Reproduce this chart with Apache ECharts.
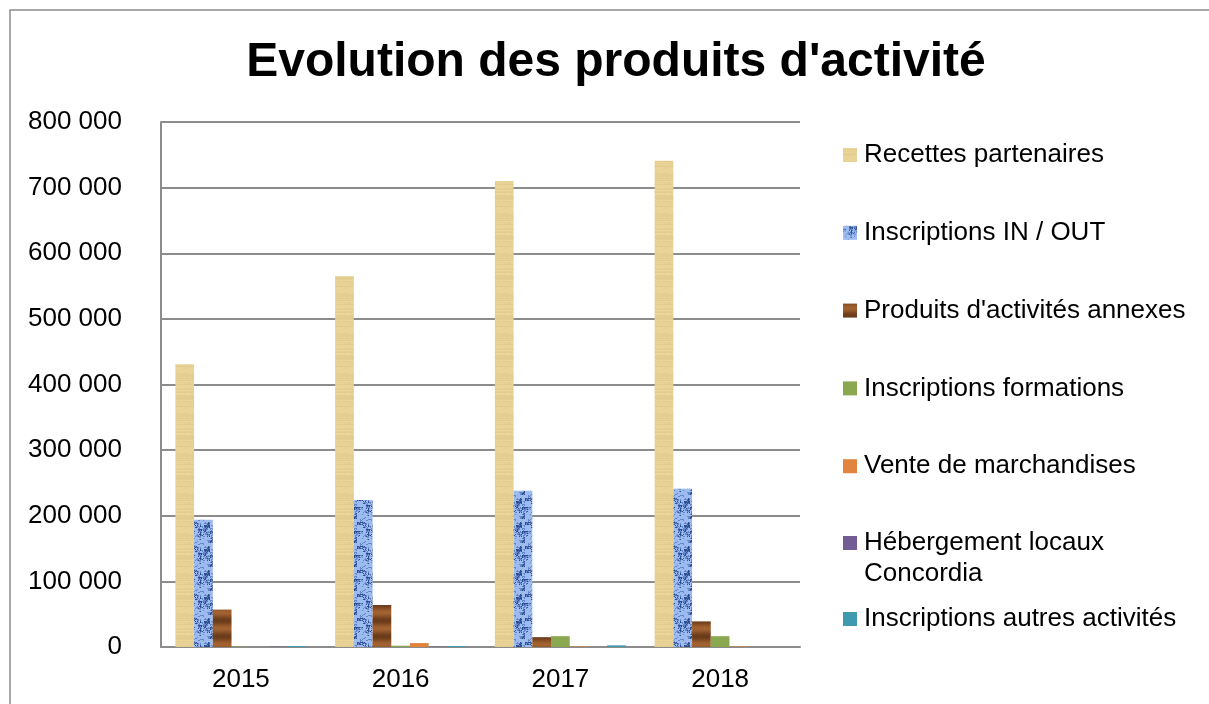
<!DOCTYPE html>
<html>
<head>
<meta charset="utf-8">
<script src="https://cdn.jsdelivr.net/npm/echarts@6/dist/echarts.min.js"></script>
<style>
  html, body { margin: 0; padding: 0; background: #fff; }
  #main { width: 1209px; height: 704px; }
</style>
</head>
<body>
<div id="main"></div>
<script>
// données
var years = ['2015', '2016', '2017', '2018'];
var recettes = [431000, 565000, 710000, 741000];
var inscriptionsInOut = [194000, 224000, 238000, 241000];
var produitsAnnexes = [57000, 64000, 15000, 39000];
var inscriptionsFormations = [500, 2000, 16500, 16500];
var venteMarchandises = [0, 6000, 800, 800];
var hebergement = [500, 500, 0, 0];
var inscriptionsAutres = [1500, 1500, 2500, 0];
var yTicks = [0, 100000, 200000, 300000, 400000, 500000, 600000, 700000, 800000];

// petites textures façon Excel (papyrus, bleu marbré, bois)
function hash(x, y) {
  var h = Math.sin(x * 127.1 + y * 311.7) * 43758.5453;
  return h - Math.floor(h);
}
function makePattern(w, h, fn) {
  var c = document.createElement('canvas');
  c.width = w; c.height = h;
  var ctx = c.getContext('2d');
  for (var y = 0; y < h; y++) {
    for (var x = 0; x < w; x++) {
      ctx.fillStyle = fn(x, y);
      ctx.fillRect(x, y, 1, 1);
    }
  }
  return { image: c, repeat: 'repeat' };
}
var papyrus = makePattern(20, 40, function (x, y) {
  var n = hash(x, y) * 0.4 + hash(0, y) * 0.6;
  var r = Math.round(238 - n * 16), g = Math.round(217 - n * 18), b = Math.round(158 - n * 22);
  return 'rgb(' + r + ',' + g + ',' + b + ')';
});
var blueMarble = makePattern(24, 24, function (x, y) {
  var n = (hash(Math.floor(x / 3), Math.floor(y / 3)) * 0.6 + hash(x, y) * 0.4);
  if (n > 0.75) return '#2f4f8e';
  if (n > 0.58) return '#6388cc';
  return '#9dbbee';
});
var wood = makePattern(20, 16, function (x, y) {
  var band = Math.sin(y / 16 * Math.PI * 2) * 0.5 + 0.5;
  var n = hash(x, y) * 0.15;
  var r = Math.round(110 + band * 55 - n * 40), g = Math.round(62 + band * 38 - n * 30), b = Math.round(28 + band * 22 - n * 20);
  return 'rgb(' + r + ',' + g + ',' + b + ')';
});

function fmt(v) {
  return String(v).replace(/\B(?=(\d{3})+(?!\d))/g, ' ');
}

var chart = echarts.init(document.getElementById('main'));

var labelFont = 'Liberation Sans, Arial, sans-serif';
var legendText = { fontFamily: labelFont, fontSize: 26, color: '#000', lineHeight: 30, padding: [0, 0, 0, 2] };

function bar(name, data, color) {
  return {
    name: name,
    type: 'bar',
    data: data,
    barGap: '0%',
    barCategoryGap: '18%',
    itemStyle: { color: color },
    emphasis: { disabled: true }
  };
}

var option = {
  animation: false,
  title: {
    text: "Evolution des produits d'activité",
    left: 611,
    textAlign: 'center',
    top: 34,
    textStyle: { fontFamily: labelFont, fontSize: 48, fontWeight: 'bold', color: '#000' }
  },
  graphic: [{
    type: 'polyline',
    shape: { points: [[10, 704], [10, 10], [1209, 10]] },
    style: { stroke: '#8c8c8c', lineWidth: 1.5, fill: null },
    silent: true
  }],
  grid: { left: 161, top: 122, width: 639, height: 525 },
  legend: [{
    orient: 'vertical',
    left: 843,
    top: 140,
    padding: 0,
    itemWidth: 14,
    itemHeight: 14,
    itemGap: 47.8,
    icon: 'rect',
    textStyle: legendText,
    data: ['Recettes partenaires', 'Inscriptions IN / OUT', "Produits d'activités annexes",
      'Inscriptions formations', 'Vente de marchandises']
  }, {
    orient: 'vertical',
    left: 843,
    top: 527,
    padding: 0,
    itemWidth: 14,
    itemHeight: 45,
    icon: 'path://M0,0H14V14H0Z M0,44H0.01V44.01H0Z',
    textStyle: { fontFamily: labelFont, fontSize: 26, color: '#000', lineHeight: 31, padding: [0, 0, 0, 2] },
    data: ['Hébergement locaux\nConcordia']
  }, {
    orient: 'vertical',
    left: 843,
    top: 604,
    padding: 0,
    itemWidth: 14,
    itemHeight: 14,
    icon: 'rect',
    textStyle: legendText,
    data: ['Inscriptions autres activités']
  }],
  xAxis: {
    type: 'category',
    data: years,
    axisTick: { show: false },
    axisLine: { lineStyle: { color: '#8c8c8c', width: 2 } },
    axisLabel: { color: '#000', fontFamily: labelFont, fontSize: 26, margin: 20 }
  },
  yAxis: {
    type: 'value',
    min: yTicks[0],
    max: yTicks[yTicks.length - 1],
    interval: 100000,
    axisLine: { show: true, lineStyle: { color: '#8c8c8c', width: 2 } },
    axisTick: { show: false },
    splitLine: { lineStyle: { color: '#8c8c8c', width: 2 } },
    axisLabel: { color: '#000', fontFamily: labelFont, fontSize: 26, margin: 39, formatter: fmt }
  },
  series: [
    bar('Recettes partenaires', recettes, papyrus),
    bar('Inscriptions IN / OUT', inscriptionsInOut, blueMarble),
    bar("Produits d'activités annexes", produitsAnnexes, wood),
    bar('Inscriptions formations', inscriptionsFormations, '#8aa84f'),
    bar('Vente de marchandises', venteMarchandises, '#e0843e'),
    bar('Hébergement locaux\nConcordia', hebergement, '#735b94'),
    bar('Inscriptions autres activités', inscriptionsAutres, '#3f9aaf')
  ]
};

chart.setOption(option);
</script>
</body>
</html>
